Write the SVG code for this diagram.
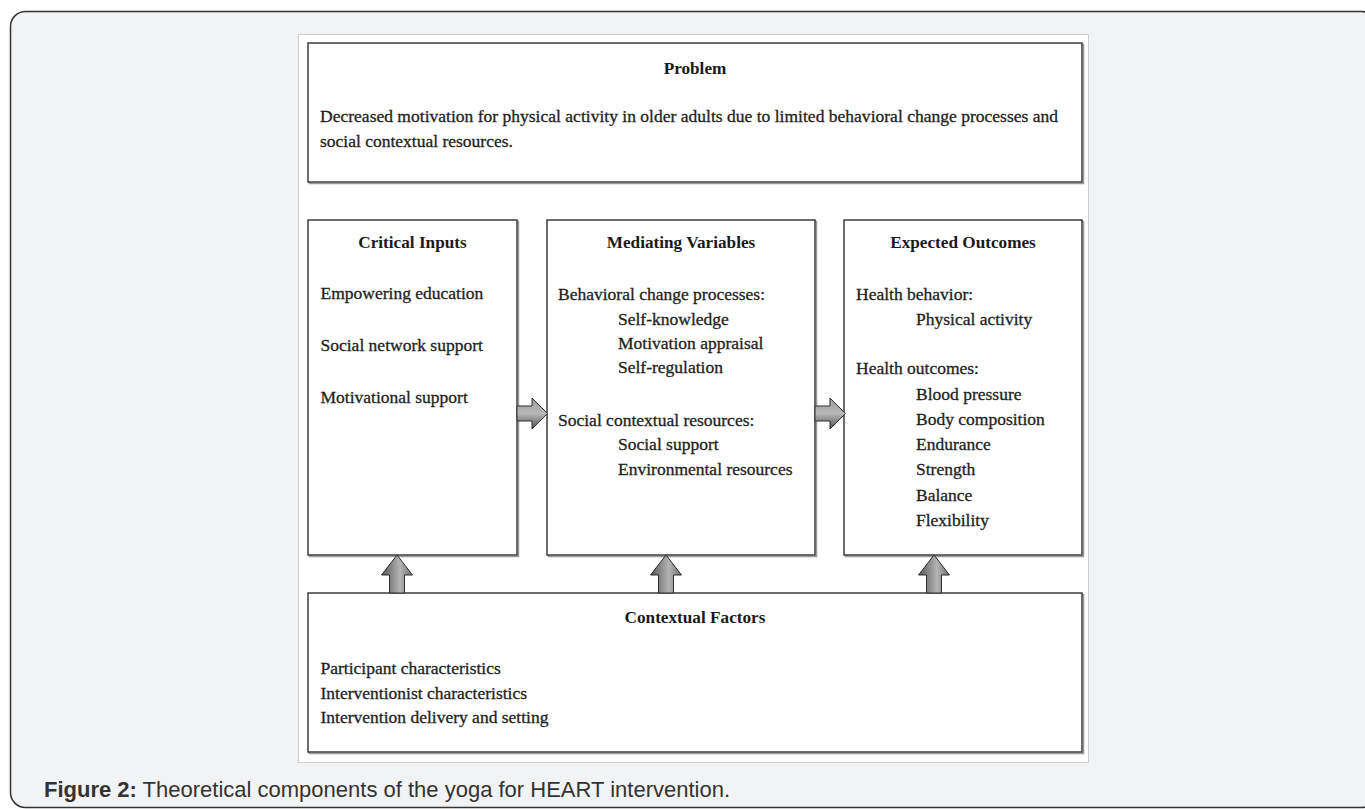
<svg xmlns="http://www.w3.org/2000/svg" width="1365" height="809" viewBox="0 0 1365 809">
  <defs>
    <linearGradient id="gUp" x1="0" y1="0" x2="1" y2="0">
      <stop offset="0" stop-color="#555"/>
      <stop offset="0.6" stop-color="#b5b5b5"/>
      <stop offset="1" stop-color="#6a6a6a"/>
    </linearGradient>
    <linearGradient id="gRight" x1="0" y1="0" x2="0" y2="1">
      <stop offset="0" stop-color="#9a9a9a"/>
      <stop offset="0.5" stop-color="#b8b8b8"/>
      <stop offset="1" stop-color="#505050"/>
    </linearGradient>
  </defs>
  <style>
    .box { fill: #ffffff; stroke: #3c3c3c; stroke-width: 1.5; }
    .shadow { fill: none; stroke: #9a9a9a; stroke-width: 1.5; }
    .t { font-family: "Liberation Serif", "Times New Roman", serif; font-size: 17.5px; fill: #1e1e1e; stroke: #1e1e1e; stroke-width: 0.3; }
    .h { font-family: "Liberation Serif", "Times New Roman", serif; font-size: 17.2px; font-weight: bold; fill: #1a1a1a; text-anchor: middle; }
    .arrU { fill: url(#gUp); stroke: #2e2e2e; stroke-width: 1; }
    .arrR { fill: url(#gRight); stroke: #2e2e2e; stroke-width: 1; }
    .cap { font-family: "Liberation Sans", Arial, sans-serif; font-size: 22px; fill: #333333; }
  </style>

  <!-- page frame -->
  <rect x="10.5" y="11.5" width="1366" height="796" rx="15" ry="15" fill="#f2f3f5" stroke="#333333" stroke-width="1.5"/>
  <!-- figure panel -->
  <rect x="298.5" y="34.5" width="790" height="728" fill="#ffffff" stroke="#cfcfcf" stroke-width="1"/>

  <g id="problem">
    <rect class="shadow" x="309.5" y="44.5" width="774" height="139"/>
    <rect class="box" x="308" y="43" width="774" height="139"/>
    <text class="h" x="695" y="74">Problem</text>
    <text class="t" x="320" y="122" textLength="738" lengthAdjust="spacing">Decreased motivation for physical activity in older adults due to limited behavioral change processes and</text>
    <text class="t" x="320" y="147">social contextual resources.</text>
  </g>

  <g id="critical-inputs">
    <rect class="shadow" x="309.5" y="221.5" width="209" height="335"/>
    <rect class="box" x="308" y="220" width="209" height="335"/>
    <text class="h" x="412.5" y="248">Critical Inputs</text>
    <text class="t" x="320.5" y="299">Empowering education</text>
    <text class="t" x="320.5" y="351">Social network support</text>
    <text class="t" x="320.5" y="403">Motivational support</text>
  </g>

  <g id="mediating-variables">
    <rect class="shadow" x="548.5" y="221.5" width="268" height="335"/>
    <rect class="box" x="547" y="220" width="268" height="335"/>
    <text class="h" x="681" y="248">Mediating Variables</text>
    <text class="t" x="558" y="300">Behavioral change processes:</text>
    <text class="t" x="618" y="325">Self-knowledge</text>
    <text class="t" x="618" y="349">Motivation appraisal</text>
    <text class="t" x="618" y="373">Self-regulation</text>
    <text class="t" x="558" y="426">Social contextual resources:</text>
    <text class="t" x="618" y="450">Social support</text>
    <text class="t" x="618" y="475">Environmental resources</text>
  </g>

  <g id="expected-outcomes">
    <rect class="shadow" x="845.5" y="221.5" width="238" height="335"/>
    <rect class="box" x="844" y="220" width="238" height="335"/>
    <text class="h" x="963" y="248">Expected Outcomes</text>
    <text class="t" x="856" y="300">Health behavior:</text>
    <text class="t" x="916" y="325">Physical activity</text>
    <text class="t" x="856" y="374">Health outcomes:</text>
    <text class="t" x="916" y="399.5">Blood pressure</text>
    <text class="t" x="916" y="424.5">Body composition</text>
    <text class="t" x="916" y="450">Endurance</text>
    <text class="t" x="916" y="475">Strength</text>
    <text class="t" x="916" y="500.5">Balance</text>
    <text class="t" x="916" y="526">Flexibility</text>
  </g>

  <g id="contextual-factors">
    <rect class="shadow" x="309.5" y="594.5" width="774" height="159"/>
    <rect class="box" x="308" y="593" width="774" height="159"/>
    <text class="h" x="695" y="623">Contextual Factors</text>
    <text class="t" x="320.5" y="674">Participant characteristics</text>
    <text class="t" x="320.5" y="698.5">Interventionist characteristics</text>
    <text class="t" x="320.5" y="723">Intervention delivery and setting</text>
  </g>

  <g id="connectors">
    <polygon class="arrR" points="517,406 532,406 532,398 547.5,413.5 532,429 532,421 517,421"/>
    <polygon class="arrR" points="815,406 830,406 830,398 845.5,413.5 830,429 830,421 815,421"/>
    <polygon class="arrU" points="389.5,593 389.5,575 381.5,575 397,555 412.5,575 404.5,575 404.5,593"/>
    <polygon class="arrU" points="658.5,593 658.5,575 650.5,575 666,555 681.5,575 673.5,575 673.5,593"/>
    <polygon class="arrU" points="926.5,593 926.5,575 918.5,575 934,555 949.5,575 941.5,575 941.5,593"/>
  </g>

  <text class="cap" x="44" y="797"><tspan font-weight="bold">Figure 2:</tspan> Theoretical components of the yoga for HEART intervention.</text>
</svg>
